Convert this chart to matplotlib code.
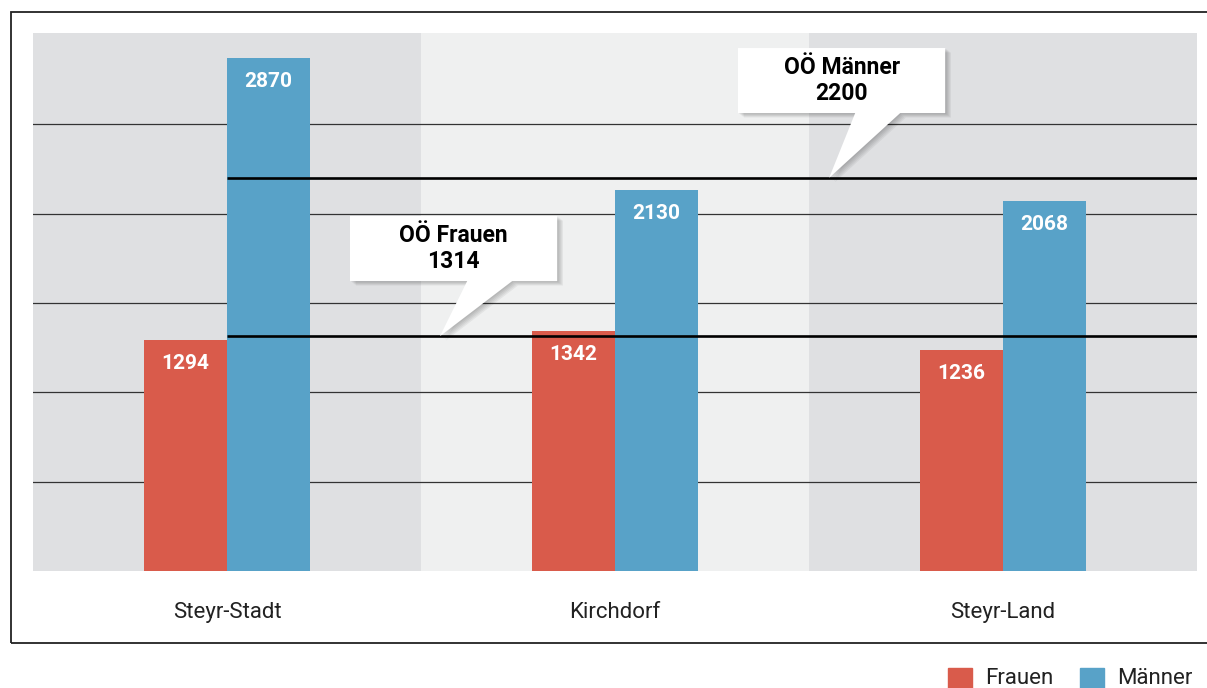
import numpy as np
import matplotlib
matplotlib.use("Agg")
from matplotlib import pyplot as plt
from matplotlib.patches import Polygon, Rectangle
from matplotlib import font_manager

regions = ["Steyr-Stadt", "Kirchdorf", "Steyr-Land"]
frauen = [1294, 1342, 1236]
maenner = [2870, 2130, 2068]
oo_frauen = 1314
oo_maenner = 2200
series_names = ["Frauen", "Männer"]

RED = "#d95b4b"
BLUE = "#58a2c8"
BAND_DARK = "#dfe0e2"
BAND_LIGHT = "#eff0f0"

names = {f.name for f in font_manager.fontManager.ttflist}
font = "Liberation Sans Narrow" if "Liberation Sans Narrow" in names else "Roboto"
plt.rcParams["font.family"] = [font, "DejaVu Sans"]

W, H = 1207, 688
fig = plt.figure(figsize=(W / 100, H / 100), dpi=100)
ax = fig.add_axes([33 / W, (H - 571) / H, (1197 - 33) / W, (571 - 33) / H])

x = np.arange(len(regions))
bw = 0.214
ymax = 3010

# background bands
for i in x:
    ax.axvspan(i - 0.5, i + 0.5, color=BAND_DARK if i % 2 == 0 else BAND_LIGHT, zorder=0, lw=0)

# grid
for g in range(500, 3000, 500):
    ax.axhline(g, color="#333333", lw=0.9, zorder=1)

b1 = ax.bar(x - bw / 2, frauen, bw, color=RED, zorder=2)
b2 = ax.bar(x + bw / 2, maenner, bw, color=BLUE, zorder=2)

for bars, vals in [(b1, frauen), (b2, maenner)]:
    for r, v in zip(bars, vals):
        ax.annotate(str(v), (r.get_x() + r.get_width() / 2, v), xytext=(0, -17),
                    textcoords="offset points", ha="center", va="center",
                    color="white", fontsize=15, fontweight="bold", zorder=5)

# reference lines
ax.hlines([oo_frauen, oo_maenner], 0, 2.5, color="black", lw=1.9, zorder=3)


def callout(tip_x, tip_y, bx0, by0, label, value):
    bw_, bh_ = 0.534, 364
    pts = [(bx0, by0), (bx0 + 0.302, by0), (tip_x, tip_y), (bx0 + 0.418, by0),
           (bx0 + bw_, by0), (bx0 + bw_, by0 + bh_), (bx0, by0 + bh_)]
    for k in range(5):
        off_x = 0.003 * (k + 1)
        off_y = -10 * (k + 1) / 2
        sh = Polygon([(px + off_x, py + off_y) for px, py in pts], closed=True,
                     color="black", alpha=0.05, lw=0, zorder=6)
        ax.add_patch(sh)
    ax.add_patch(Polygon(pts, closed=True, facecolor="white", edgecolor="none", zorder=7))
    ax.text(bx0 + bw_ / 2, by0 + bh_ / 2, f"{label}\n{value}", ha="center", va="center",
            fontsize=16.5, fontweight="bold", linespacing=1.15, zorder=8)


callout(0.549, oo_frauen, 0.317, 1622, "OÖ Frauen", oo_frauen)
callout(1.552, oo_maenner, 1.317, 2562, "OÖ Männer", oo_maenner)

ax.set_xlim(-0.5, 2.5)
ax.set_ylim(0, ymax)
ax.set_yticks([])
ax.set_xticks(x)
ax.set_xticklabels(regions, fontsize=16, color="#222222")
ax.tick_params(axis="x", length=0, pad=22)
for s in ax.spines.values():
    s.set_visible(False)

# outer frame
fig.patches.append(Rectangle((11 / W, (H - 643) / H), 1.0, (643 - 12) / H, transform=fig.transFigure,
                             fill=False, edgecolor="#222222", lw=1.3, zorder=0))

# legend
for k, (name, col, px) in enumerate([(series_names[0], RED, 948), (series_names[1], BLUE, 1080)]):
    fig.patches.append(Rectangle((px / W, 0), 24 / W, 20 / H, transform=fig.transFigure,
                                 color=col))
    fig.text((px + 37) / W, 10 / H, name, fontsize=16, va="center", ha="left", color="#222222")

fig.savefig("out.png", dpi=100)
